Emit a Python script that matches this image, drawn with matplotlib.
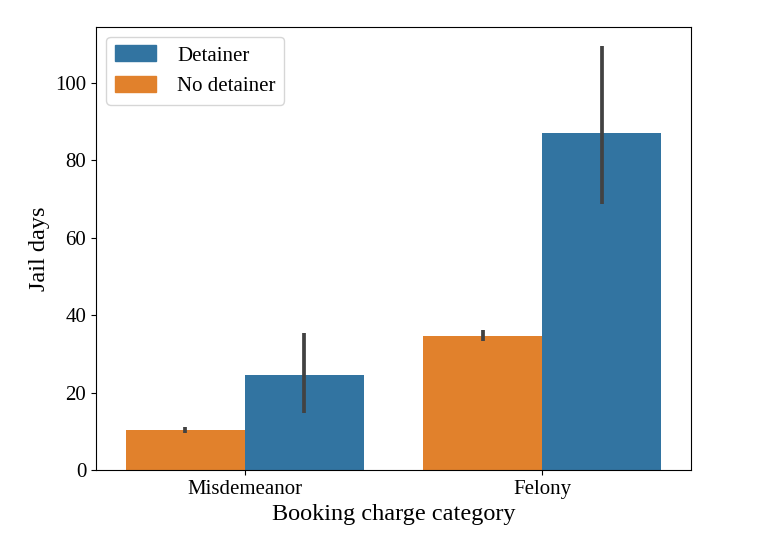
import matplotlib
matplotlib.use('Agg')
import matplotlib.pyplot as plt
import numpy as np
from matplotlib.patches import Patch

categories = ["Misdemeanor", "Felony"]
no_detainer = [10.2, 34.5]
no_detainer_lo = [9.5, 33.4]
no_detainer_hi = [11.0, 36.1]
detainer = [24.5, 87.0]
detainer_lo = [14.8, 68.7]
detainer_hi = [35.4, 109.5]

blue = "#3274a1"
orange = "#e1812c"
err_color = "#424242"

plt.rcParams['font.family'] = ['Liberation Serif', 'DejaVu Serif']

fig, ax = plt.subplots(figsize=(7.68, 5.34), dpi=100)
fig.subplots_adjust(left=0.125, right=0.9, top=0.95, bottom=0.12)

x = np.arange(len(categories))
w = 0.4
ax.bar(x - w / 2, no_detainer, width=w, color=orange)
ax.bar(x + w / 2, detainer, width=w, color=blue)
ax.vlines(x - w / 2, no_detainer_lo, no_detainer_hi, color=err_color, lw=2.7)
ax.vlines(x + w / 2, detainer_lo, detainer_hi, color=err_color, lw=2.7)

ax.set_xlim(-0.5, 1.5)
ax.set_ylim(0, 114.5)
ax.set_xticks(x)
ax.set_xticklabels(categories)
ax.tick_params(labelsize=15)
ax.set_xlabel("Booking charge category", fontsize=17.5)
ax.set_ylabel("Jail days", fontsize=17.5)

handles = [Patch(color=blue, label="Detainer"), Patch(color=orange, label="No detainer")]
ax.legend(handles=handles, loc="upper left", fontsize=15, handlelength=2.0,
          handleheight=0.8, handletextpad=1.0)

plt.savefig("out.png")
